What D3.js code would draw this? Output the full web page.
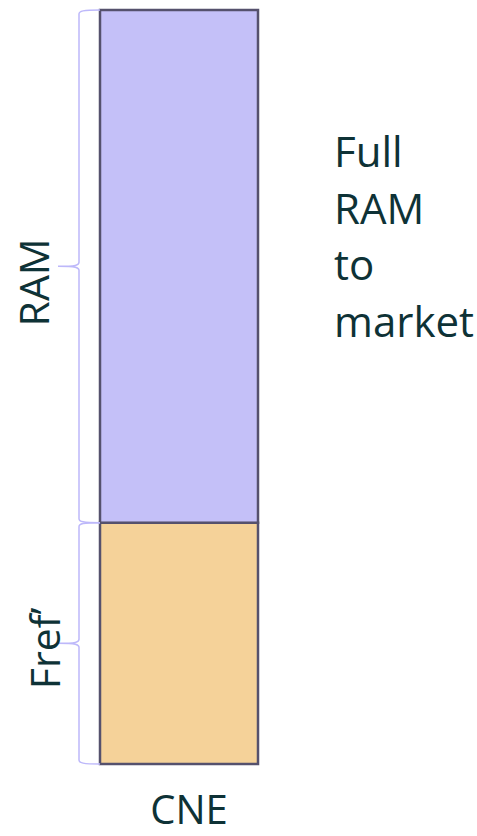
<!DOCTYPE html>
<html>
<head>
<meta charset="utf-8">
<script src="https://cdn.jsdelivr.net/npm/d3@7"></script>
<style>
  html, body { margin: 0; padding: 0; background: #ffffff; }
  svg { display: block; }
  text { font-family: "Open Sans", "Noto Sans", sans-serif; fill: #0e3236; }
</style>
</head>
<body>
<svg id="chart" width="477" height="836"></svg>
<script>
// Single stacked column: Fref' at the base, RAM on top
const categories = ["CNE"];
const seriesNames = ["Fref’", "RAM"];
const frefValues = [32];
const ramValues = [68];
const sideNote = ["Full", "RAM", "to", "market"];

const colors = { "Fref’": "#f5d299", "RAM": "#c4c0f8" };

const svg = d3.select("#chart");

const x = d3.scaleBand().domain(categories).range([100, 258]).padding(0);
const y = d3.scaleLinear().domain([0, 100]).range([764, 10]);

const rows = categories.map((c, i) => ({ cat: c, "Fref’": frefValues[i], "RAM": ramValues[i] }));
const stacked = d3.stack().keys(seriesNames)(rows);

// Bars
svg.append("g").selectAll("g")
  .data(stacked)
  .join("g")
  .attr("fill", d => colors[d.key])
  .selectAll("rect")
  .data(d => d)
  .join("rect")
  .attr("x", d => x(d.data.cat))
  .attr("y", d => y(d[1]))
  .attr("width", x.bandwidth())
  .attr("height", d => y(d[0]) - y(d[1]))
  .attr("stroke", "#55516d")
  .attr("stroke-width", 2.5);

// Left curly brace for each segment
function bracePath(y0, y1, xRight, xLine, xTip) {
  const mid = (y0 + y1) / 2;
  const r = 4;
  return `M${xRight},${y0}` +
    `C${xLine + 4},${y0} ${xLine},${y0 + 1} ${xLine},${y0 + r}` +
    `L${xLine},${mid - r}` +
    `C${xLine},${mid - 1} ${xLine - 3},${mid} ${xTip},${mid}` +
    `C${xLine - 3},${mid} ${xLine},${mid + 1} ${xLine},${mid + r}` +
    `L${xLine},${y1 - r}` +
    `C${xLine},${y1 - 1} ${xLine + 4},${y1} ${xRight},${y1}`;
}

const braceG = svg.append("g");
stacked.forEach(s => {
  const d = s[0];
  braceG.append("path")
    .attr("d", bracePath(y(d[1]), y(d[0]), x(d.data.cat), 79, 58))
    .attr("fill", "none")
    .attr("stroke", "#bdb8fa")
    .attr("stroke-width", 1.5);
});

// Rotated segment labels
const labelX = { "RAM": 35, "Fref’": 46 };
stacked.forEach(s => {
  const d = s[0];
  const cy = (y(d[0]) + y(d[1])) / 2 + (s.key === "RAM" ? 16 : 5);
  svg.append("text")
    .attr("transform", `translate(${labelX[s.key] + 14},${cy}) rotate(-90)`)
    .attr("text-anchor", "middle")
    .attr("font-size", 41)
    .text(s.key);
});

// Category label
svg.append("text")
  .attr("x", x("CNE") + x.bandwidth() / 2 + 10)
  .attr("y", 824)
  .attr("text-anchor", "middle")
  .attr("font-size", 40)
  .text(categories[0]);

// Side annotation
svg.append("g").selectAll("text")
  .data(sideNote)
  .join("text")
  .attr("x", 334)
  .attr("y", (d, i) => 167 + i * 56.7)
  .attr("font-size", 42)
  .text(d => d);
</script>
</body>
</html>
